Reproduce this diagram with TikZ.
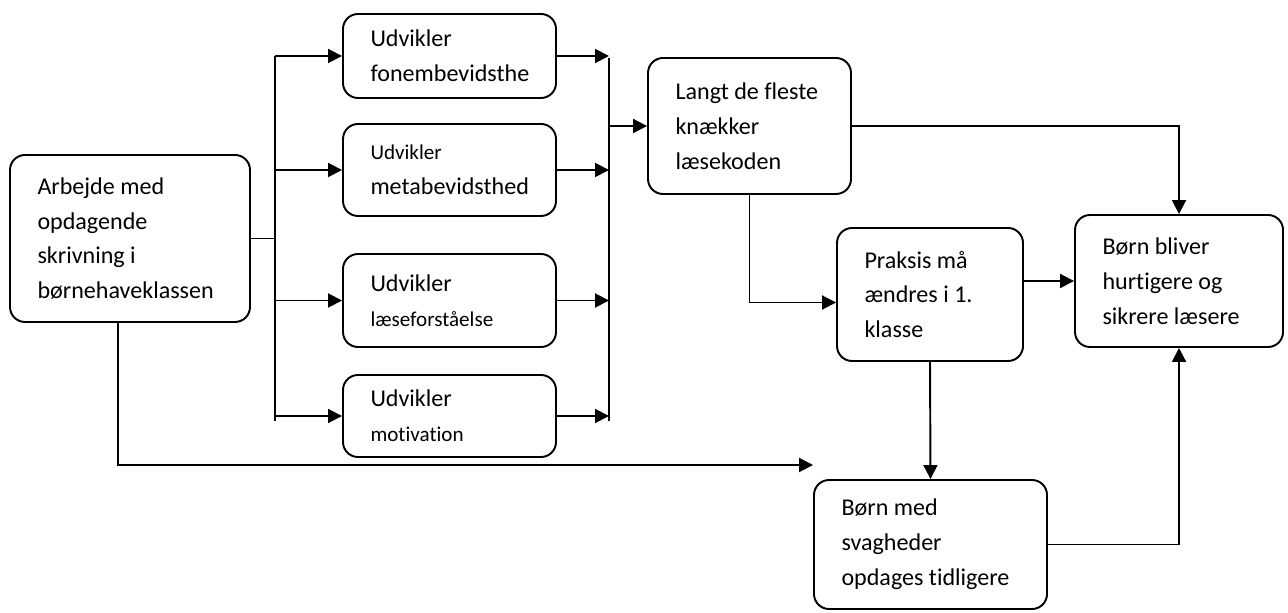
\documentclass[tikz,border=0pt]{standalone}
\usepackage{fontspec}
\setmainfont{Carlito}[Ligatures=NoCommon]
\usetikzlibrary{arrows.meta}

\newcommand{\lille}{\fontsize{12}{17}\selectfont}

\begin{document}
\begin{tikzpicture}
			\tikzstyle{Box} 	= [draw, line width=1.1pt, rounded corners=0.3cm, align=flush left, inner xsep=0.55cm, inner ysep=0pt, font=\fontsize{13.7}{19.8}\selectfont]
			\tikzstyle{Line}	= [line width=1.1pt]
			\tikzstyle{Arrow}	= [line width=1.1pt, -{Triangle[length=0.28cm, width=0.28cm]}]

			\useasboundingbox (0,0) rectangle (25.76,12.24);

			\node (arb) at (2.6, 7.47) [Box, text width=3.7cm, minimum height=3.34cm] {Arbejde med\\opdagende\\skrivning i\\børnehaveklassen};
			\node (fon) at (8.99, 11.12) [Box, text width=3.16cm, minimum height=1.68cm] {Udvikler\\fonembevidsthe};
			\node (meta) at (8.99, 8.84) [Box, text width=3.16cm, minimum height=1.84cm] {{\lille Udvikler}\\metabevidsthed};
			\node (laes) at (8.99, 6.23) [Box, text width=3.16cm, minimum height=1.86cm] {Udvikler\\{\lille læseforståelse}};
			\node (mot) at (8.99, 3.92) [Box, text width=3.16cm, minimum height=1.64cm] {Udvikler\\{\lille motivation}};
			\node (langt) at (14.99, 9.72) [Box, text width=2.96cm, minimum height=2.72cm] {Langt de fleste\\knækker\\læsekoden};
			\node (praksis) at (18.6, 6.35) [Box, text width=2.62cm, minimum height=2.66cm] {Praksis må\\ændres i 1.\\klasse};
			\node (bliver) at (23.58, 6.62) [Box, text width=3.06cm, minimum height=2.64cm] {Børn bliver\\hurtigere og\\sikrere læsere};
			\node (med) at (18.61, 1.35) [Box, text width=3.56cm, minimum height=2.58cm] {Børn med\\svagheder\\opdages tidligere};

			\coordinate (lbT) at (5.5, 11.12);
			\coordinate (lbB) at (5.5, 3.82);
			\coordinate (rbT) at (12.18, 11.08);
			\coordinate (rbB) at (12.18, 3.82);

			% venstre samleskinne
			\draw [Line] (arb.east) -- (arb.east -| lbT);
			\draw [Line] (lbT) -- (lbB);
			\foreach \n in {fon, meta, laes, mot}
				\draw [Arrow] (\n.west -| lbT) -- (\n.west);

			% hoejre samleskinne
			\draw [Line] (rbT) -- (rbB);
			\foreach \n in {fon, meta, laes, mot}
				\draw [Arrow] (\n.east) -- (\n.east -| rbT);
			\draw [Arrow] (langt.west -| rbT) -- (langt.west);

			\draw [Arrow] (langt.east) -| (bliver.north);
			\draw [Arrow] (langt.south) |- ([yshift=-0.16cm]praksis.west);
			\draw [Arrow] (bliver.west -| praksis.east) -- (bliver.west);
			\draw [Arrow] (praksis.south) -- (med.north);
			\draw [Arrow] (med.east) -| (bliver.south);
			\draw [Arrow] ([xshift=-0.24cm]arb.south) |- ([yshift=1.59cm]med.west);
		\end{tikzpicture}
\end{document}
